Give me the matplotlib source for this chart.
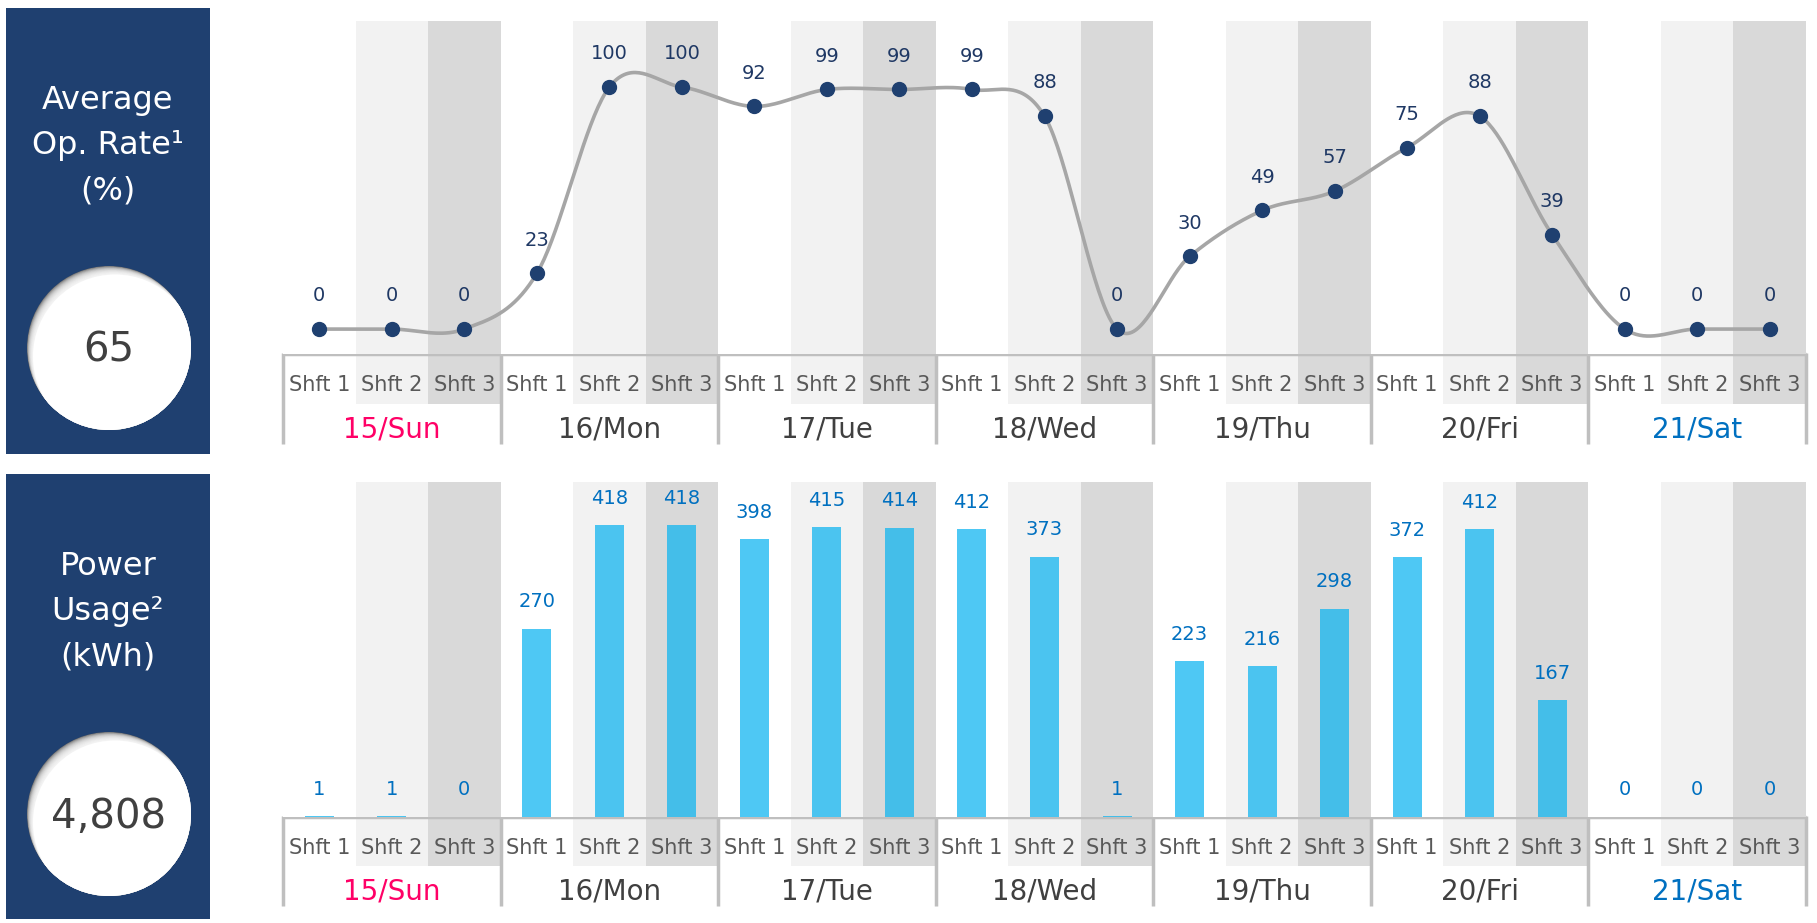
import numpy as np
import matplotlib.pyplot as plt
from matplotlib.patches import Circle, Rectangle
from matplotlib import transforms

# ---- data ----
days = ['15/Sun', '16/Mon', '17/Tue', '18/Wed', '19/Thu', '20/Fri', '21/Sat']
day_colors = ['#FF0066', '#404040', '#404040', '#404040', '#404040', '#404040', '#0070C0']
shifts = ['Shft 1', 'Shft 2', 'Shft 3']
op_rate = [0, 0, 0, 23, 100, 100, 92, 99, 99, 99, 88, 0, 30, 49, 57, 75, 88, 39, 0, 0, 0]
power = [1, 1, 0, 270, 418, 418, 398, 415, 414, 412, 373, 1, 223, 216, 298, 372, 412, 167, 0, 0, 0]
avg_op_rate = '65'
total_power = '4,808'

NAVY = '#1F4070'
STRIPES = ['#FFFFFF', '#F2F2F2', '#D9D9D9']
GRID = '#BFBFBF'

plt.rcParams['font.family'] = ['DejaVu Sans']

W, H = 1817, 923
fig = plt.figure(figsize=(W / 100, H / 100), dpi=100)


def px_axes(x0, y0, x1, y1):
    return fig.add_axes([x0 / W, 1 - y1 / H, (x1 - x0) / W, (y1 - y0) / H])


over = px_axes(0, 0, W, H)
over.set_xlim(0, W)
over.set_ylim(H, 0)
over.axis('off')


def smooth(ys, n=40):
    # Bezier smoothing through the points (like a spreadsheet smoothed line)
    ys = np.asarray(ys, float)
    xs = np.arange(len(ys), dtype=float)
    px, py = [], []
    t = np.linspace(0, 1, n)
    for i in range(len(ys) - 1):
        i0, i3 = max(i - 1, 0), min(i + 2, len(ys) - 1)
        p0x, p0y = xs[i], ys[i]
        p3x, p3y = xs[i + 1], ys[i + 1]
        c1x, c1y = p0x + (xs[i + 1] - xs[i0]) / 6, p0y + (ys[i + 1] - ys[i0]) / 6
        c2x, c2y = p3x - (xs[i3] - xs[i]) / 6, p3y - (ys[i3] - ys[i]) / 6
        b = [(1 - t) ** 3, 3 * (1 - t) ** 2 * t, 3 * (1 - t) * t ** 2, t ** 3]
        px.append(b[0] * p0x + b[1] * c1x + b[2] * c2x + b[3] * p3x)
        py.append(b[0] * p0y + b[1] * c1y + b[2] * c2y + b[3] * p3y)
    return np.concatenate(px), np.concatenate(py)


def side_panel(y0, y1, lines, value):
    over.add_patch(Rectangle((6, y0), 204, y1 - y0, fc=NAVY, ec='none'))
    for k, txt in enumerate(lines):
        over.text(108, y0 + 101 + 45 * k, txt, color='white', fontsize=23,
                  ha='center', va='baseline')
    # white disc with a soft inner shadow on the upper left
    cx, cy, r = 109, y0 + 340, 82
    base = Circle((cx, cy), r, fc='#5e5e5e', ec='none')
    over.add_patch(base)
    for s in np.linspace(10, 0, 14):
        c = Circle((cx + 0.6 * s, cy + 0.85 * s), r, fc='white', ec='none', alpha=0.2)
        over.add_patch(c)
        c.set_clip_path(base)
    c = Circle((cx + 6, cy + 8.5), r, fc='white', ec='none')
    over.add_patch(c)
    c.set_clip_path(base)
    over.text(cx, cy + 14, value, color='#404040', fontsize=29, ha='center', va='baseline')


def chart(top, bottom, row1, row2):
    ax = px_axes(283, top, 1806, bottom)
    ax.set_xlim(-0.5, len(op_rate) - 0.5)
    for i in range(len(op_rate)):
        ax.axvspan(i - 0.5, i + 0.5, color=STRIPES[i % 3], lw=0, zorder=0)
    ax.set_xticks([])
    ax.set_yticks([])
    for s in ax.spines.values():
        s.set_visible(False)

    bt = transforms.blended_transform_factory(ax.transData, over.transData)
    n = len(op_rate)
    for i in range(n):
        over.add_patch(Rectangle((i - 0.5, bottom), 1, row1 - bottom, transform=bt,
                                 fc=STRIPES[i % 3], ec='none'))
        over.text(i, (bottom + row1) / 2 + 6, shifts[i % 3], transform=bt, ha='center',
                  va='center', fontsize=15, color='#595959')
    for d, name in enumerate(days):
        over.text(3 * d + 1, (row1 + row2) / 2 + 6, name, transform=bt, ha='center',
                  va='center', fontsize=20, color=day_colors[d])
    over.plot([-0.5, n - 0.5], [bottom, bottom], transform=bt, color=GRID, lw=2.5,
              solid_capstyle='butt')
    for d in range(len(days) + 1):
        over.plot([3 * d - 0.5, 3 * d - 0.5], [bottom - 1, row2], transform=bt, color=GRID,
                  lw=2.5, solid_capstyle='butt')
    return ax


side_panel(8, 454, ['Average', 'Op. Rate\u00b9', '(%)'], avg_op_rate)
side_panel(474, 919, ['Power', 'Usage\u00b2', '(kWh)'], total_power)

# ---- top chart: average operation rate ----
ax1 = chart(21, 354, 404, 444)
ax1.set_ylim(-10.3, 127.3)
sx, sy = smooth(op_rate)
ax1.plot(sx, sy, color='#A6A6A6', lw=2.6, zorder=2)
x = np.arange(len(op_rate))
ax1.plot(x, op_rate, 'o', ms=10, color=NAVY, zorder=3)
for i, v in enumerate(op_rate):
    ax1.annotate(str(v), (i, v), xytext=(0, 24), textcoords='offset points', ha='center',
                 va='center', fontsize=14, color='#1F3864')

# ---- bottom chart: power usage ----
ax2 = chart(482, 817, 866, 906)
ax2.set_ylim(0, 480)
ax2.bar(x, power, width=0.4, color='#0DB4F0', alpha=0.73, zorder=2)
for i, v in enumerate(power):
    ax2.annotate(str(v), (i, v), xytext=(0, 19.5), textcoords='offset points', ha='center',
                 va='center', fontsize=14, color='#0070C0')

fig.savefig('out.png', dpi=100)
